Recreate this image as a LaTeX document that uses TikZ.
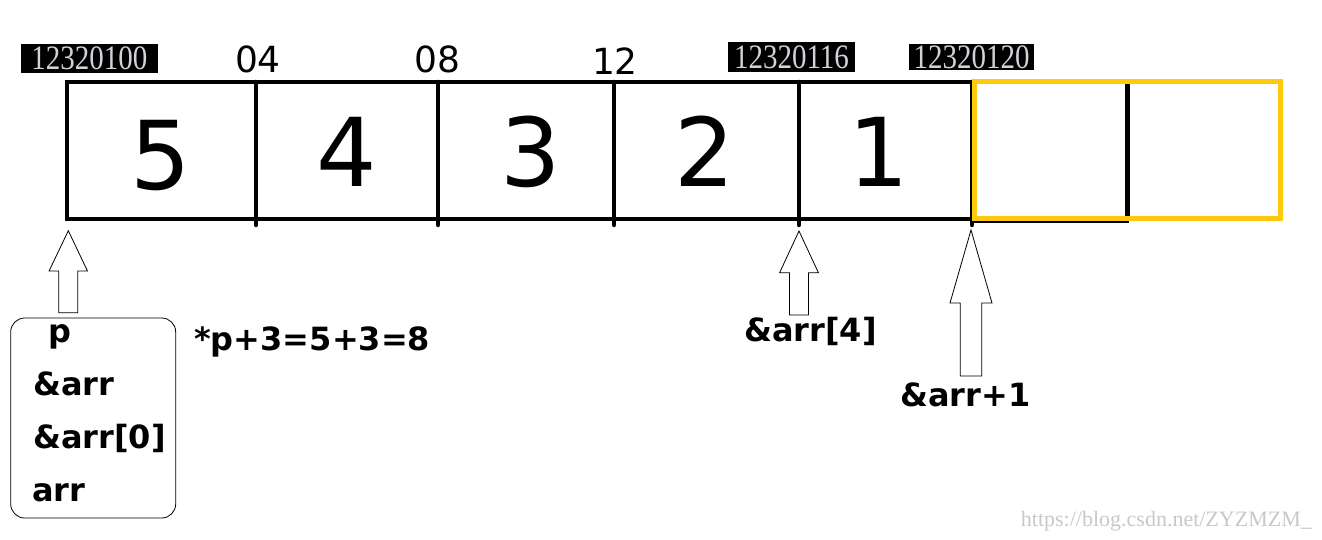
\documentclass[tikz,border=0pt]{standalone}
\usepackage{fontspec}
\setmainfont{DejaVu Sans}
\newfontfamily\addrfont{Liberation Serif}
\usetikzlibrary{positioning}
\definecolor{paintgold}{RGB}{255,201,14}
\definecolor{addrgray}{RGB}{208,212,218}
\definecolor{markgray}{RGB}{200,200,200}

\begin{document}
\begin{tikzpicture}[x=1pt,y=-1pt,
  cellline/.style={line width=4.5pt},
  addr/.style={fill=black,text=addrgray,inner sep=0pt,
    font=\addrfont\fontsize{29}{29}\selectfont},
  offset/.style={inner sep=0pt,anchor=base,font=\fontsize{36}{36}\selectfont},
  val/.style={inner sep=0pt,font=\fontsize{95}{95}\selectfont},
  lbl/.style={inner sep=0pt,anchor=base west,font=\bfseries\fontsize{32}{32}\selectfont},
  hollow/.style={draw,fill=white,line width=0.8pt,line join=miter}]
  \useasboundingbox (0,0) rectangle (1322,540);

  \node[addr,minimum width=137pt,minimum height=29pt] (a100) at (89.3,58.3)
  {\scalebox{1}[1.18]{12320100}\hspace{8pt}};
  \node[addr,minimum width=127pt,minimum height=30pt] (a116) at (791.5,57.5)
  {\scalebox{1}[1.18]{12320116}};
  \node[addr,minimum width=125pt,minimum height=26pt] (a120) at (971.5,57)
  {\scalebox{1}[1.18]{12320120}};
  \node[offset] (o04) at (258,73) {04};
  \node[offset] (o08) at (437.5,73) {08};
  \node[offset] (o12) at (615,75) {12};

  \draw[cellline] (972,82) -- (67,82) -- (67,219) -- (972,219);
  \foreach \x in {256,438,614,799,972}
  \draw[cellline,line cap=round] (\x,82) -- (\x,225);
  \draw[line width=3pt] (972,221) -- (1129,221);
  \draw[cellline] (1127.5,82) -- (1127.5,218);
  \draw[paintgold,line width=5pt] (974,82) rectangle (1280,218.5);

  \foreach \v/\x/\y in {5/161/156,4/347/152,3/531/152,2/705/151,1/879/152}
  \node[val] (v\v) at (\x,\y) {\v};

  \foreach \x/\t/\h/\b/\hw/\sw in {68.3/230.7/271/312.7/19.2/9.5,
    799/231/272.7/315/19.4/9.5, 971/230/303/376/21/10.8}
  \draw[hollow] (\x-\sw,\b) -- (\x-\sw,\h) -- (\x-\hw,\h) -- (\x,\t)
  -- (\x+\hw,\h) -- (\x+\sw,\h) -- (\x+\sw,\b) -- cycle;

  \node[draw,line width=0.8pt,rounded corners=14pt,minimum width=165pt,
  minimum height=200pt,inner sep=0pt] (pbox) at (93.2,418) {};
  \node[lbl] (lp) at (48.5,342) {p};
  \node[lbl] (larr) at (33,395) {\&arr};
  \node[lbl] (larr0) at (33,448) {\&arr[0]};
  \node[lbl] (lname) at (32,501) {arr};
  \node[lbl] (deref) at (194,350) {*p+3=5+3=8};
  \node[lbl] (l4) at (744,341) {\&arr[4]};
  \node[lbl] (lnext) at (900,406) {\&arr+1};

  \node[inner sep=0pt,anchor=base east,text=markgray,
  font=\addrfont\fontsize{22}{22}\selectfont] (mark) at (1312,526)
  {https://blog.csdn.net/ZYZMZM\_};
\end{tikzpicture}
\end{document}
